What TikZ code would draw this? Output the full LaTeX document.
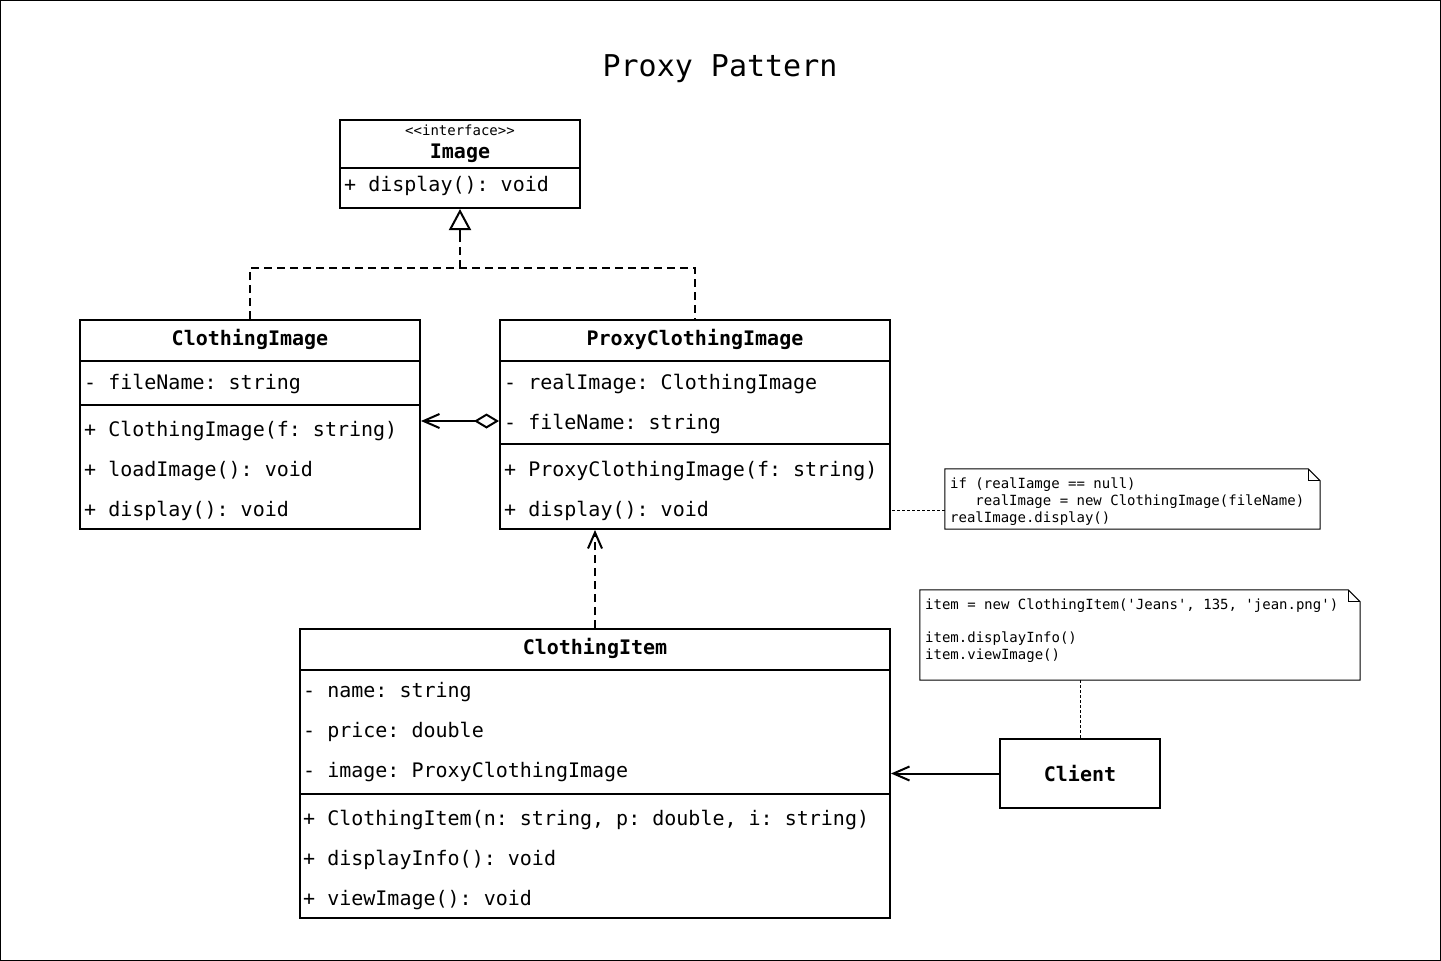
\documentclass[tikz,border=0pt]{standalone}
\usepackage{fontspec}
\setmonofont{DejaVu Sans Mono}
\usetikzlibrary{arrows.meta}

\begin{document}
\begin{tikzpicture}[x=1pt,y=-1pt,
	box/.style={draw,line width=2pt,inner sep=0pt},
	row/.style={anchor=base west,inner sep=0pt,font=\ttfamily\fontsize{20}{24}\selectfont},
	head/.style={anchor=base,inner sep=0pt,font=\ttfamily\bfseries\fontsize{20}{24}\selectfont},
	memo/.style={anchor=base west,inner sep=0pt,font=\ttfamily\fontsize{14}{17}\selectfont},
	note/.style={inner sep=0pt},
	noteline/.style={line width=1pt},
	link/.style={line width=2pt},
	dep/.style={line width=2pt,dash pattern=on 8pt off 5pt},
	dots/.style={line width=1pt,dash pattern=on 3pt off 2pt},
	openv/.tip={Straight Barb[length=16pt,width=14pt]}]
				\useasboundingbox (0,0) rectangle (1441,961);
				\draw[line width=1pt] (0.5,0.5) rectangle (1440.5,960.5);
				\node[font=\ttfamily\fontsize{30}{36}\selectfont,anchor=base] (title) at (720,76) {Proxy Pattern};
				
				\node[box,minimum width=240pt,minimum height=88pt] (img) at (460,164) {};
				\node[memo,anchor=base] (img-s) at (460,135) {<<interface>>};
				\node[head] (img-t) at (460,158) {Image};
				\draw[link] (340,168) -- (580,168);
				\node[row] (img-m1) at (344,191) {+ display(): void};
				
				\node[box,minimum width=340pt,minimum height=209pt] (ci) at (250,424.5) {};
				\node[head] (ci-t) at (250,345) {ClothingImage};
				\draw[link] (80,361) -- (420,361);
				\node[row] (ci-a1) at (84,389) {- fileName: string};
				\draw[link] (80,405) -- (420,405);
				\node[row] (ci-m1) at (84,436) {+ ClothingImage(f: string)};
				\node[row] (ci-m2) at (84,476) {+ loadImage(): void};
				\node[row] (ci-m3) at (84,516) {+ display(): void};
				
				\node[box,minimum width=390pt,minimum height=209pt] (pci) at (695,424.5) {};
				\node[head] (pci-t) at (695,345) {ProxyClothingImage};
				\draw[link] (500,361) -- (890,361);
				\node[row] (pci-a1) at (504,389) {- realImage: ClothingImage};
				\node[row] (pci-a2) at (504,429) {- fileName: string};
				\draw[link] (500,444) -- (890,444);
				\node[row] (pci-m1) at (504,476) {+ ProxyClothingImage(f: string)};
				\node[row] (pci-m2) at (504,516) {+ display(): void};
				
				\node[box,minimum width=590pt,minimum height=289pt] (item) at (595,773.5) {};
				\node[head] (item-t) at (595,654) {ClothingItem};
				\draw[link] (300,670) -- (890,670);
				\node[row] (item-a1) at (303,697) {- name: string};
				\node[row] (item-a2) at (303,737) {- price: double};
				\node[row] (item-a3) at (303,777) {- image: ProxyClothingImage};
				\draw[link] (300,794) -- (890,794);
				\node[row] (item-m1) at (303,825) {+ ClothingItem(n: string, p: double, i: string)};
				\node[row] (item-m2) at (303,865) {+ displayInfo(): void};
				\node[row] (item-m3) at (303,905) {+ viewImage(): void};
				
				\node[box,minimum width=160pt,minimum height=69pt,font=\ttfamily\bfseries\fontsize{20}{24}\selectfont] (client) at (1080,773.5) {Client};
				
				\node[note,minimum width=375pt,minimum height=60pt] (memo1) at (1132.5,499) {};
				\draw[noteline] (memo1.north west) -- ([xshift=-12pt]memo1.north east) -- ([yshift=-12pt]memo1.north east) -- (memo1.south east) -- (memo1.south west) -- cycle;
				\draw[noteline] ([xshift=-12pt]memo1.north east) |- ([yshift=-12pt]memo1.north east);
				\node[memo] (memo1-l1) at (950,488) {if (realIamge == null)};
				\node[memo] (memo1-l2) at (950,505) {\phantom{xxx}realImage = new ClothingImage(fileName)};
				\node[memo] (memo1-l3) at (950,522) {realImage.display()};
				
				\node[note,minimum width=440pt,minimum height=90pt] (memo2) at (1140,635) {};
				\draw[noteline] (memo2.north west) -- ([xshift=-12pt]memo2.north east) -- ([yshift=-12pt]memo2.north east) -- (memo2.south east) -- (memo2.south west) -- cycle;
				\draw[noteline] ([xshift=-12pt]memo2.north east) |- ([yshift=-12pt]memo2.north east);
				\node[memo] (memo2-l1) at (925,609) {item = new ClothingItem('Jeans', 135, 'jean.png')};
				\node[memo] (memo2-l2) at (925,642) {item.displayInfo()};
				\node[memo] (memo2-l3) at (925,659) {item.viewImage()};
				
				\coordinate (join) at (460,268);
				\coordinate (tri) at (460,234);
				\draw[dep] (ci.north) |- (join) -| (pci.north);
				\draw[dep] (join) -- (tri);
				\draw[link,-{Triangle[open,length=21pt,width=22pt]}] (tri) -- (img.south);
				\draw[link,{Diamond[open,length=25pt,width=15pt]}-{openv}] ([yshift=3.5pt]pci.west) -- ([yshift=3.5pt]ci.east);
				\draw[dep,-{openv}] (item.north) -- (item.north |- pci.south);
				\draw[dots] ([yshift=-11pt]memo1.west) -- ([yshift=-11pt]memo1.west -| pci.east);
				\draw[dots] (memo2.south -| client.north) -- (client.north);
				\draw[link,-{openv}] (client.west) -- (client.west -| item.east);
			\end{tikzpicture}
\end{document}
